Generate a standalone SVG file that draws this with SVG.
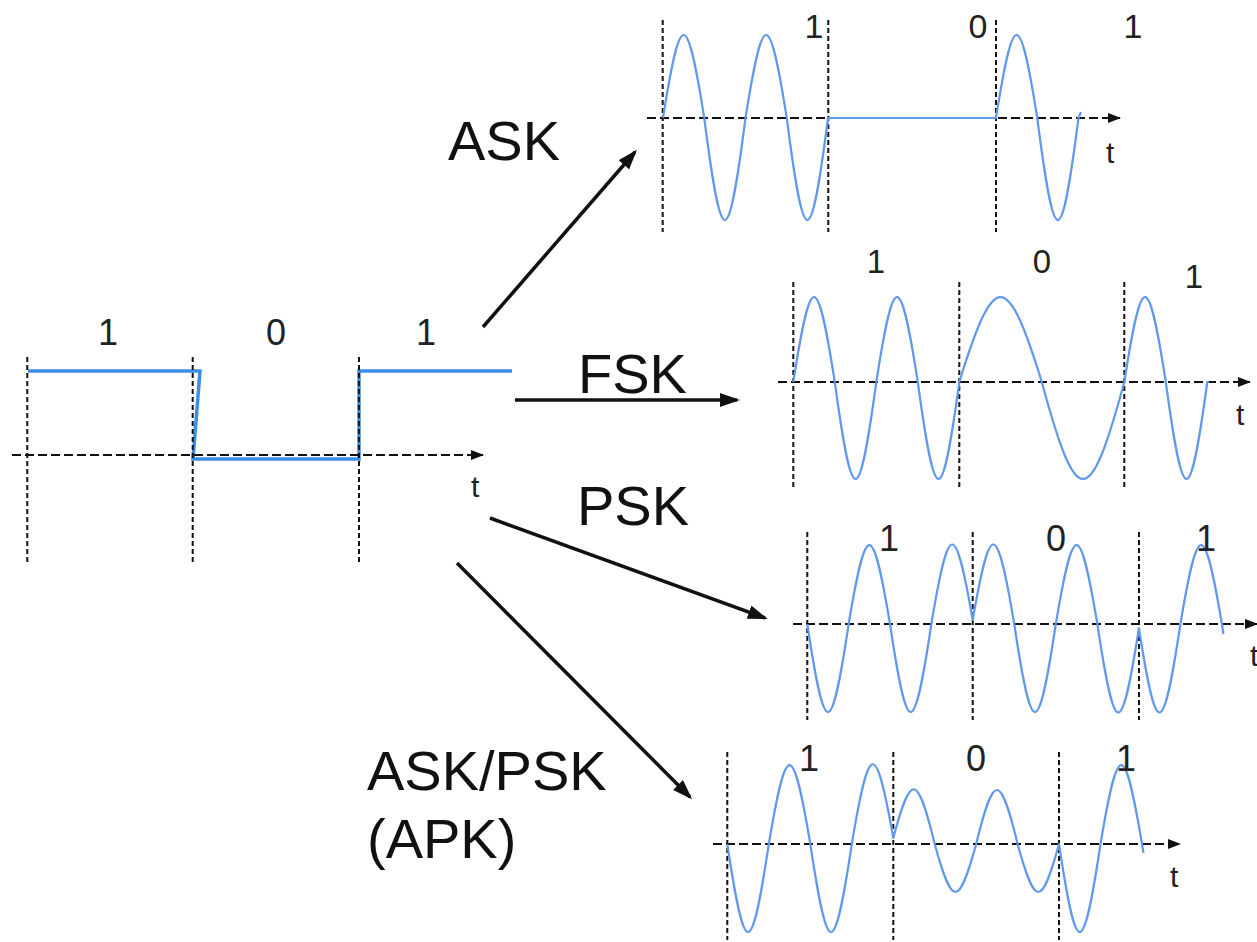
<svg xmlns="http://www.w3.org/2000/svg" width="1257" height="942" viewBox="0 0 1257 942">
<style>
.vd{stroke:#111;stroke-width:2;stroke-dasharray:5 3;fill:none}
.ax{stroke:#111;stroke-width:2.2;stroke-dasharray:9 4;fill:none}
.wave{stroke:#6098ee;stroke-width:2.2;fill:none;stroke-linejoin:round}
.sq{stroke:#3b8ee3;stroke-width:3.5;fill:none}
.bit{font-family:"Liberation Sans",Arial,sans-serif;fill:#222;text-anchor:middle}
.tl{font-family:"Liberation Sans",Arial,sans-serif;fill:#222;font-size:30px}
.big{font-family:"Liberation Sans",Arial,sans-serif;fill:#111;font-size:56px}
.conn{stroke:#111;stroke-width:3.5;fill:none}
</style>
<defs>
<marker id="axh" viewBox="0 0 13 10" refX="12" refY="5" markerWidth="13" markerHeight="10" markerUnits="userSpaceOnUse" orient="auto">
<path d="M0,0 L13,5 L0,10 z" fill="#111"/>
</marker>
<marker id="arh" viewBox="0 0 20 14" refX="17" refY="7" markerWidth="20" markerHeight="14" markerUnits="userSpaceOnUse" orient="auto">
<path d="M0,0 L20,7 L0,14 z" fill="#111"/>
</marker>
</defs>
<rect width="1257" height="942" fill="#fff"/>

<g id="input-signal">
<path class="sq" d="M28,371 L200,371 L193,459 L359,459 L359,371 L512,371"/>
<line class="vd" x1="27.3" y1="357" x2="27.3" y2="563"/>
<line class="vd" x1="192.7" y1="357" x2="192.7" y2="563"/>
<line class="vd" x1="359" y1="357" x2="359" y2="563"/>
<line class="ax" x1="12" y1="455" x2="483" y2="455" marker-end="url(#axh)"/>
<text class="bit" x="108" y="345" font-size="36">1</text>
<text class="bit" x="276" y="345" font-size="36">0</text>
<text class="bit" x="426" y="345" font-size="36">1</text>
<text class="tl" x="471" y="497">t</text>
</g>

<g id="ask-panel">
<line class="vd" x1="662.7" y1="20" x2="662.7" y2="232"/>
<line class="vd" x1="828.3" y1="20" x2="828.3" y2="232"/>
<line class="vd" x1="996" y1="20" x2="996" y2="232"/>
<line class="ax" x1="647" y1="118" x2="1120" y2="118" marker-end="url(#axh)"/>
<path class="wave" d="M663,118 C680.5,7.3 686.75,7.3 704.25,118 C721.75,254 728,254 745.5,118 C763,7.3 769.25,7.3 786.75,118 C804.25,254 810.5,254 828,118 L996,118 C1013.5,7.3 1019.75,7.3 1037.25,118 C1054.75,254 1061,254 1078.5,118 L1081,112"/>
<text class="bit" x="814" y="38" font-size="34">1</text>
<text class="bit" x="978" y="38" font-size="34">0</text>
<text class="bit" x="1133" y="38" font-size="34">1</text>
<text class="tl" x="1106" y="163">t</text>
</g>

<g id="fsk-panel">
<line class="vd" x1="793.3" y1="282" x2="793.3" y2="490"/>
<line class="vd" x1="959.3" y1="282" x2="959.3" y2="490"/>
<line class="vd" x1="1124.3" y1="282" x2="1124.3" y2="490"/>
<line class="ax" x1="778" y1="382" x2="1250" y2="382" marker-end="url(#axh)"/>
<path class="wave" d="M793.3,382 C810.9,268.7 817.2,268.7 834.8,382 C852.4,511.3 858.7,511.3 876.3,382 C893.9,268.7 900.2,268.7 917.8,382 C935.4,511.3 941.7,511.3 959.3,382 C994.3,268.7 1006.8,268.7 1041.8,382 C1076.8,511.3 1089.3,511.3 1124.3,382 C1141.9,268.7 1148.2,268.7 1165.8,382 C1183.4,511.3 1189.7,511.3 1207.3,382 L1209,382"/>
<text class="bit" x="876" y="273" font-size="33">1</text>
<text class="bit" x="1042" y="273" font-size="33">0</text>
<text class="bit" x="1194" y="288" font-size="33">1</text>
<text class="tl" x="1236" y="425">t</text>
</g>

<g id="psk-panel">
<line class="vd" x1="807.3" y1="532" x2="807.3" y2="720"/>
<line class="vd" x1="972.7" y1="532" x2="972.7" y2="720"/>
<line class="vd" x1="1139" y1="532" x2="1139" y2="720"/>
<line class="ax" x1="793" y1="624" x2="1257" y2="624" marker-end="url(#axh)"/>
<path class="wave" d="M807.3,624 C824.85,741.3 831.1,741.3 848.65,624 C866.2,518.7 872.45,518.7 890,624 C907.55,741.3 913.8,741.3 931.35,624 C948.9,518.7 955.15,518.7 972.7,620 C990.33,518.7 996.62,518.7 1014.25,624 C1031.88,741.3 1038.17,741.3 1055.8,624 C1073.43,518.7 1079.72,518.7 1097.35,624 C1114.98,741.3 1121.27,741.3 1138.9,628 C1156.5,741.3 1162.8,741.3 1180.4,624 C1198,518.7 1204.3,518.7 1221.9,624 L1223.4,634"/>
<text class="bit" x="889" y="551" font-size="36">1</text>
<text class="bit" x="1056" y="551" font-size="36">0</text>
<text class="bit" x="1206" y="551" font-size="36">1</text>
<text class="tl" x="1250" y="666">t</text>
</g>

<g id="apk-panel">
<line class="vd" x1="727.3" y1="752" x2="727.3" y2="940"/>
<line class="vd" x1="893.3" y1="752" x2="893.3" y2="940"/>
<line class="vd" x1="1059" y1="752" x2="1059" y2="940"/>
<line class="ax" x1="713" y1="844" x2="1180" y2="844" marker-end="url(#axh)"/>
<path class="wave" d="M727.3,844 C744.9,961.3 751.2,961.3 768.8,844 C786.4,738.7 792.7,738.7 810.3,844 C827.9,961.3 834.2,961.3 851.8,844 C869.4,738.7 875.7,738.7 893.3,838 C910.9,772 917.2,772 934.7,844 C952.3,908 958.6,908 976.2,844 C993.8,772 1000.1,772 1017.6,844 C1035.2,908 1041.5,908 1059,844 C1076.6,961.3 1082.9,961.3 1100.5,844 C1118.1,738.7 1124.4,738.7 1142,844 L1143.5,853"/>
<text class="bit" x="809" y="771" font-size="36">1</text>
<text class="bit" x="976" y="771" font-size="36">0</text>
<text class="bit" x="1126" y="771" font-size="36">1</text>
<text class="tl" x="1170" y="887">t</text>
</g>

<g id="label-ask"><text class="big" x="448" y="160">ASK</text></g>
<g id="label-fsk"><text class="big" x="578" y="393">FSK</text></g>
<g id="label-psk"><text class="big" x="577" y="525">PSK</text></g>
<g id="label-apk"><text class="big" x="367" y="790">ASK/PSK</text><text class="big" x="367" y="858">(APK)</text></g>

<g id="connectors">
<line class="conn" x1="483" y1="327" x2="635" y2="152" marker-end="url(#arh)"/>
<line class="conn" x1="515" y1="400" x2="737" y2="400" marker-end="url(#arh)"/>
<line class="conn" x1="490" y1="518" x2="765" y2="618" marker-end="url(#arh)"/>
<line class="conn" x1="457" y1="563" x2="690" y2="797" marker-end="url(#arh)"/>
</g>
</svg>
